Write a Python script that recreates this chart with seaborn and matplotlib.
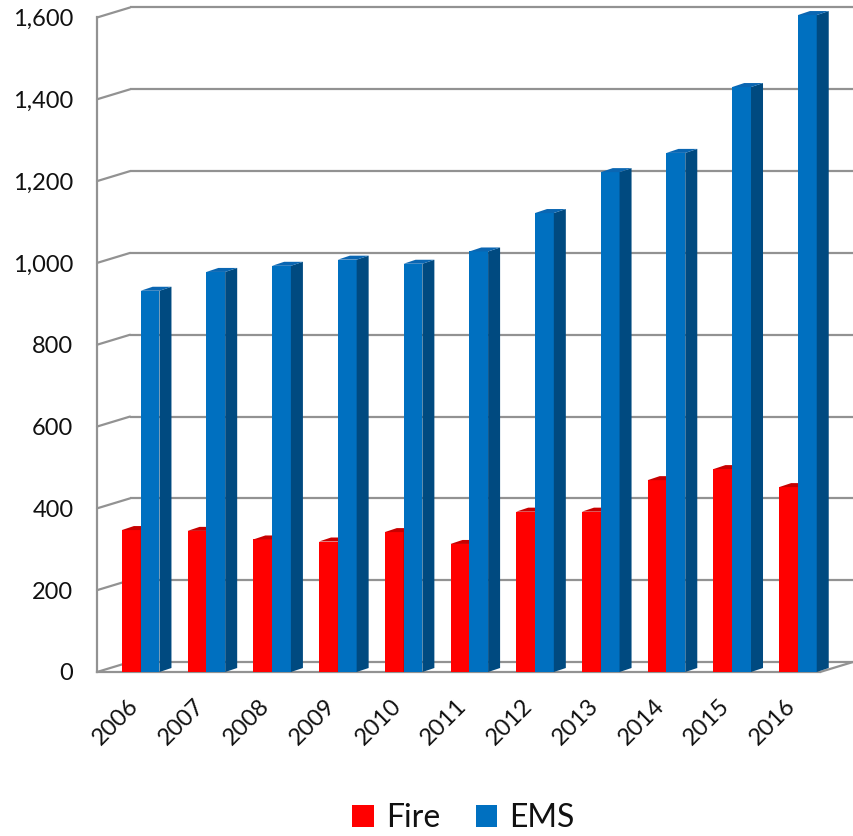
import matplotlib
matplotlib.use('Agg')
import matplotlib.pyplot as plt
import matplotlib.transforms as mtransforms
from matplotlib.patches import Polygon
import seaborn as sns
import pandas as pd

# values
years = ['2006', '2007', '2008', '2009', '2010', '2011', '2012', '2013', '2014', '2015', '2016']
fire = [347, 345, 324, 319, 342, 313, 392, 392, 469, 496, 452]
ems = [932, 978, 993, 1008, 998, 1028, 1122, 1222, 1269, 1430, 1606]
yticks = [0, 200, 400, 600, 800, 1000, 1200, 1400, 1600]
ytick_labels = ['0', '200', '400', '600', '800', '1,000', '1,200', '1,400', '1,600']

df = pd.DataFrame({
    'year': years * 2,
    'calls': fire + ems,
    'type': ['Fire'] * len(years) + ['EMS'] * len(years),
})

front = {'Fire': '#FF0000', 'EMS': '#0070C0'}
side = {'Fire': '#A80000', 'EMS': '#004A80'}
top = {'Fire': '#C80000', 'EMS': '#0A66B2'}
grid = '#929292'
text = '#111111'

sns.set_style('white')
plt.rcParams['font.family'] = ['Lato', 'DejaVu Sans']

fig = plt.figure(figsize=(8.54, 8.36), dpi=100)
ax = fig.add_axes([97 / 854, 164 / 836, 723 / 854, 654.5 / 836])
sns.barplot(data=df, x='year', y='calls', hue='type', palette=front, width=0.572,
            saturation=1, ax=ax, zorder=3, linewidth=0)
ax.set_xlim(-0.5, len(years) - 0.5)
ax.set_ylim(0, yticks[-1])
ax.set_xlabel('')
ax.set_ylabel('')


def px_to_data(dx, dy):
    inv = ax.transData.inverted()
    x0, y0 = inv.transform((0, 0))
    x1, y1 = inv.transform((dx, dy))
    return x1 - x0, y1 - y0


# fake 3d: back wall offset and bar depth
wall_dx, wall_dy = px_to_data(33, 10)
bar_dx, bar_dy = px_to_data(12, 4)
shift = px_to_data(10.8, 0)[0]

x_left, x_right = ax.get_xlim()
for v in yticks:
    ax.plot([x_left + wall_dx, x_right + wall_dx], [v + wall_dy] * 2, color=grid, lw=1.6,
            clip_on=False, zorder=1, solid_capstyle='butt')
    ax.plot([x_left, x_left + wall_dx], [v, v + wall_dy], color=grid, lw=1.6,
            clip_on=False, zorder=1)
ax.plot([x_right, x_right + wall_dx], [0, wall_dy], color=grid, lw=1.6, clip_on=False, zorder=1)

for cont, name, z in zip(ax.containers, ['Fire', 'EMS'], [3, 4]):
    for bar in cont:
        bar.set_x(bar.get_x() + shift)
        bar.set_clip_on(False)
        bar.set_zorder(z)
        x0, w, h = bar.get_x(), bar.get_width(), bar.get_height()
        ax.add_patch(Polygon([(x0 + w, 0), (x0 + w + bar_dx, bar_dy),
                              (x0 + w + bar_dx, h + bar_dy), (x0 + w, h)],
                             closed=True, facecolor=side[name], lw=0, zorder=z, clip_on=False))
        ax.add_patch(Polygon([(x0, h), (x0 + w, h), (x0 + w + bar_dx, h + bar_dy),
                              (x0 + bar_dx, h + bar_dy)],
                             closed=True, facecolor=top[name], lw=0, zorder=z, clip_on=False))

sns.despine(ax=ax)
for s in ['left', 'bottom']:
    ax.spines[s].set_color(grid)
    ax.spines[s].set_linewidth(1.6)
    ax.spines[s].set_zorder(2)

ax.set_yticks(yticks, ytick_labels)
ax.tick_params(axis='y', length=5, width=1.6, color=grid, pad=12, labelsize=17, labelcolor=text)
ax.set_xticks([i - 0.5 for i in range(len(years) + 1)], minor=True)
ax.tick_params(axis='x', which='minor', length=5.5, width=1.6, color=grid)
ax.tick_params(axis='x', which='major', length=0, pad=22, labelsize=17, labelcolor=text)
nudge = mtransforms.ScaledTranslation(5 / 100, 0, fig.dpi_scale_trans)
for lbl in ax.get_xticklabels():
    lbl.set_rotation(45)
    lbl.set_ha('right')
    lbl.set_va('center')
    lbl.set_rotation_mode('anchor')
    lbl.set_transform(lbl.get_transform() + nudge)

leg = ax.get_legend()
handles = leg.legend_handles
labels = [t.get_text() for t in leg.get_texts()]
leg.remove()
fig.legend(handles, labels, loc='center', bbox_to_anchor=(0.543, 1 - 818 / 836), ncol=2,
           frameon=False, fontsize=23, handlelength=0.66, handleheight=0.66,
           handletextpad=0.4, columnspacing=1.1, labelcolor=text)

fig.savefig('out.png', dpi=100)
